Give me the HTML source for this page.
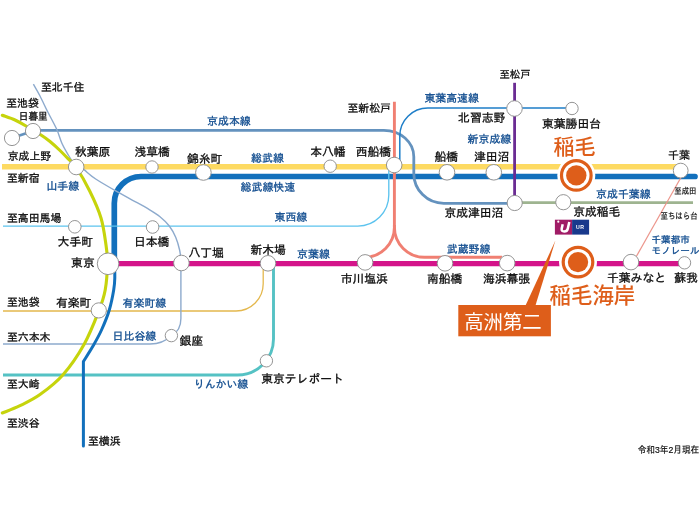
<!DOCTYPE html>
<html lang="ja"><head><meta charset="utf-8"><title>路線図</title>
<style>
html,body{margin:0;padding:0;background:#fff}
body{width:700px;height:525px;overflow:hidden}
svg{display:block;will-change:transform}
#lines path{fill:none;stroke-linejoin:round}
#labels text{font-family:'Liberation Sans', 'IPAGothic', 'Noto Sans CJK JP', sans-serif;fill:#0a0a0a;stroke:#0a0a0a;stroke-width:0.3px}
#labels text.b{fill:#0F4B8E;stroke:#0F4B8E}
#labels text.s{stroke-width:0.18px}
#big text{font-family:'Liberation Sans', 'Noto Sans CJK JP', sans-serif;font-weight:500}
#big text.w{font-weight:400}
#ur text{font-family:'Liberation Sans', 'Noto Sans CJK JP', sans-serif;font-weight:bold}
</style>
</head><body>
<svg width="700" height="525" viewBox="0 0 700 525">
<rect width="700" height="525" fill="#fff"/>
<g id="lines">
<path d="M2,166.7 H682" stroke="#FDDA62" stroke-width="5.5"/>
<path d="M695,176.5 H141 A26.7,26.7 0 0 0 114.3,203.2 V263" stroke="#1270BC" stroke-width="5.7" stroke-linecap="round"/>
<path d="M108,263.7 H685" stroke="#D4148A" stroke-width="5.3"/>
<path d="M3,226.1 H357.8 A31,31 0 0 0 388.8,195.1 V167" stroke="#5CC3EE" stroke-width="1.35"/>
<path d="M3,311 H236 A27.2,27.2 0 0 0 263.2,283.8 V263" stroke="#E4B84E" stroke-width="1.3"/>
<path d="M3,375 H237.5 A36,36 0 0 0 273.5,339 V263" stroke="#55C2C4" stroke-width="2.9"/>
<path d="M12,138 L33,131" stroke="#6492BE" stroke-width="2.8"/>
<path d="M33,130.3 H383.8 A30,26.5 0 0 1 413.8,156.8 V173.4 A30,30 0 0 0 443.8,203.4 H514" stroke="#6492BE" stroke-width="2.8"/>
<path d="M514,202.7 H693" stroke="#9EB490" stroke-width="2.8"/>
<path d="M399.8,165 V136 A28,28 0 0 1 427.8,108 H572" stroke="#1E7EC8" stroke-width="1.5"/>
<path d="M394.4,101.7 V227.3 A30,30 0 0 0 424.4,257.3 H502" stroke="#F07F72" stroke-width="2.9"/>
<path d="M394.4,225 V227.3 A30,30 0 0 1 364.4,257.3" stroke="#F07F72" stroke-width="2.9"/>
<path d="M684.6,171 L633.2,262" stroke="#EC968C" stroke-width="1.2"/>
<path d="M33.4,84.2 C34.5,86.2 37.6,91.4 40.0,96.0 C42.4,100.6 45.0,106.5 47.8,112.0 C50.6,117.5 54.2,123.8 56.6,129.0 C59.0,134.2 60.0,139.1 62.0,143.5 C64.0,147.9 66.3,151.6 68.6,155.5 C70.9,159.4 74.8,165.1 76.0,167.0" stroke="#8DAACD" stroke-width="1.4"/>
<path d="M78.0,164.5 C79.1,165.4 81.6,167.7 84.6,170.1 C87.5,172.5 90.1,175.3 95.7,179.0 C101.3,182.7 111.7,188.6 118.0,192.2 C124.3,195.8 128.5,198.0 133.6,200.8 C138.7,203.6 144.2,206.5 148.6,209.2 C153.0,211.9 156.6,214.0 160.0,216.8 C163.4,219.6 166.7,222.6 169.3,226.0 C171.9,229.4 174.0,233.3 175.7,237.3 C177.4,241.3 178.7,246.2 179.6,250.0 C180.5,253.8 180.7,258.3 180.9,260.0 V318.6 Q180.9,331 171.4,335.5" stroke="#8DAACD" stroke-width="1.4"/>
<path d="M3,344 H150 Q163,344 171.4,335.5" stroke="#8DAACD" stroke-width="1.3"/>
<path d="M114.5,262.0 C114.5,264.7 114.9,273.3 114.8,278.0 C114.7,282.7 114.6,284.7 113.7,290.0 C112.8,295.3 111.3,303.3 109.3,310.0 C107.3,316.7 104.2,324.0 101.5,330.0 C98.8,336.0 96.0,340.8 93.0,346.0 C90.0,351.2 85.0,358.9 83.4,361.5 V446" stroke="#1270BC" stroke-width="3.0" stroke-linecap="round"/>
<path d="M514.6,82.8 V203" stroke="#6B2C93" stroke-width="2.8"/>
<path d="M2.3,115.3 C4.4,116.1 11.1,118.2 15.0,120.0 C18.9,121.8 23.0,124.2 26.0,126.0 C29.0,127.8 30.5,129.0 33.0,130.5 C35.5,132.0 38.2,133.2 41.0,135.0 C43.8,136.8 46.8,138.9 50.0,141.5 C53.2,144.1 57.0,147.6 60.0,150.5 C63.0,153.4 65.3,155.9 68.0,158.7 C70.7,161.4 72.4,161.6 76.0,167.0 C79.6,172.4 85.5,182.5 89.7,191.0 C93.9,199.5 98.3,209.0 101.0,218.0 C103.7,227.0 104.9,237.4 106.0,245.0 C107.1,252.6 107.5,256.0 107.4,263.5 C107.3,271.0 106.6,282.2 105.2,290.0 C103.8,297.8 102.5,301.5 99.0,310.5 C95.5,319.5 90.3,333.2 84.3,344.0 C78.3,354.8 70.2,366.6 62.8,375.0 C55.4,383.4 47.1,389.5 40.0,394.6 C32.9,399.7 26.3,402.6 20.0,405.7 C13.7,408.8 5.2,411.8 2.3,413.0" stroke="#C6D40C" stroke-width="3.1" stroke-linecap="round"/>
</g>
<g id="stations" fill="#fff" stroke="#8e8e8e" stroke-width="0.95">
<circle cx="12" cy="138" r="7.6"/>
<circle cx="33" cy="131" r="7.6"/>
<circle cx="76.2" cy="167" r="7.8"/>
<circle cx="152" cy="167" r="6.2"/>
<circle cx="203.4" cy="172.5" r="7.8"/>
<circle cx="330.2" cy="166.2" r="6.2"/>
<circle cx="394.2" cy="165" r="7.8"/>
<circle cx="447" cy="172.3" r="7.8"/>
<circle cx="493.8" cy="172.3" r="7.8"/>
<circle cx="680.7" cy="170.6" r="7.4"/>
<circle cx="514.5" cy="108.5" r="7.8"/>
<circle cx="572" cy="108.5" r="6.2"/>
<circle cx="514.7" cy="203" r="7.6"/>
<circle cx="563.3" cy="202.2" r="7.6"/>
<circle cx="74.8" cy="226.8" r="6.3"/>
<circle cx="152.6" cy="227" r="6.3"/>
<circle cx="108.1" cy="263.8" r="10.8"/>
<circle cx="181.4" cy="263" r="7.8"/>
<circle cx="268" cy="263.3" r="7.8"/>
<circle cx="365.1" cy="262.4" r="7.8"/>
<circle cx="445" cy="263.3" r="7.8"/>
<circle cx="507.2" cy="263.1" r="7.8"/>
<circle cx="631" cy="262.1" r="7.8"/>
<circle cx="684.5" cy="262.8" r="6.2"/>
<circle cx="98.8" cy="310.4" r="7.6"/>
<circle cx="171.4" cy="335.6" r="6.2"/>
<circle cx="266.4" cy="360.8" r="6.2"/>
</g>
<g id="markers">
<circle cx="576.3" cy="175.4" r="19" fill="#fff"/><circle cx="576.3" cy="175.4" r="14.8" fill="#fff" stroke="#DE5E1A" stroke-width="3.2"/><circle cx="576.3" cy="175.4" r="10.2" fill="#DE5E1A"/>
<circle cx="578" cy="262.1" r="19" fill="#fff"/><circle cx="578" cy="262.1" r="14.8" fill="#fff" stroke="#DE5E1A" stroke-width="3.2"/><circle cx="578" cy="262.1" r="10.2" fill="#DE5E1A"/>
</g>
<g id="ur"><rect x="554.9" y="219.7" width="17.2" height="14.9" fill="#A01C66"/><rect x="572.1" y="219.7" width="17" height="14.9" fill="#18398C"/><path d="M562.7,224.2 L561.7,228.6 Q561.2,231.5 564.2,231.5 Q567.1,231.5 567.8,228.6 L569.3,221.9" fill="none" stroke="#fff" stroke-width="2.5"/><circle cx="558.3" cy="221.7" r="1.1" fill="#fff"/><text x="576.1" y="229.2" font-size="5.2" fill="#fff" letter-spacing="0.3">UR</text></g>
<g id="callout" fill="#DE5E1A"><path d="M555.4,240.6 L525.3,306 H535.3 Z"/><rect x="458.3" y="305" width="92.6" height="31.3"/></g>
<g id="labels">
<text x="40.9" y="91.1" font-size="10.9">至北千住</text>
<text x="6.2" y="107.3" font-size="10.9">至池袋</text>
<text x="18.8" y="120.2" font-size="10.4" textLength="28.8" lengthAdjust="spacingAndGlyphs">日暮里</text>
<text x="7.7" y="160.4" font-size="10.9">京成上野</text>
<text x="6.9" y="181.8" font-size="10.9">至新宿</text>
<text x="75.0" y="156.3" font-size="11.8">秋葉原</text>
<text x="134.4" y="156.3" font-size="11.8">浅草橋</text>
<text x="187.0" y="162.5" font-size="11.8">錦糸町</text>
<text x="310.2" y="156.3" font-size="11.8">本八幡</text>
<text x="355.7" y="155.5" font-size="11.8">西船橋</text>
<text x="434.4" y="161.3" font-size="11.8">船橋</text>
<text x="473.9" y="161.3" font-size="11.8">津田沼</text>
<text x="667.9" y="159.2" font-size="11">千葉</text>
<text x="347.4" y="111.9" font-size="10.9">至新松戸</text>
<text x="499.4" y="77.7" font-size="10.4">至松戸</text>
<text x="458.1" y="122.3" font-size="11.8">北習志野</text>
<text x="542.0" y="127.5" font-size="11.8">東葉勝田台</text>
<text x="444.4" y="216.7" font-size="11.8">京成津田沼</text>
<text x="573.2" y="216.2" font-size="11.8">京成稲毛</text>
<text x="674.3" y="193.9" font-size="8.6" textLength="22.1" lengthAdjust="spacingAndGlyphs" class="s">至成田</text>
<text x="660.5" y="219.4" font-size="8.8" textLength="37.1" lengthAdjust="spacingAndGlyphs" class="s">至ちはら台</text>
<text x="6.9" y="222.3" font-size="10.9">至高田馬場</text>
<text x="57.6" y="245.9" font-size="11.8">大手町</text>
<text x="134.0" y="245.9" font-size="11.8">日本橋</text>
<text x="71.1" y="267.0" font-size="11.8">東京</text>
<text x="188.4" y="256.7" font-size="11.8">八丁堀</text>
<text x="250.4" y="253.8" font-size="11.8">新木場</text>
<text x="340.7" y="283.1" font-size="11.8">市川塩浜</text>
<text x="426.9" y="283.1" font-size="11.8">南船橋</text>
<text x="482.9" y="283.1" font-size="11.8">海浜幕張</text>
<text x="607.0" y="281.5" font-size="11.8">千葉みなと</text>
<text x="674.2" y="281.5" font-size="11.8">蘇我</text>
<text x="6.9" y="306.1" font-size="10.9">至池袋</text>
<text x="56.0" y="306.5" font-size="11.8">有楽町</text>
<text x="6.9" y="340.6" font-size="10.9">至六本木</text>
<text x="179.4" y="345.2" font-size="11.8">銀座</text>
<text x="6.9" y="388.3" font-size="10.9">至大崎</text>
<text x="6.9" y="426.8" font-size="10.9">至渋谷</text>
<text x="87.9" y="445.1" font-size="10.9">至横浜</text>
<text x="261.2" y="382.5" font-size="11.8">東京テレポート</text>
<text x="637.7" y="452.9" font-size="9.5" textLength="61.6" lengthAdjust="spacingAndGlyphs" class="s">令和3年2月現在</text>
<text x="207.1" y="124.9" font-size="10.9" class="b">京成本線</text>
<text x="251.1" y="161.7" font-size="10.9" class="b">総武線</text>
<text x="240.6" y="191.1" font-size="10.9" class="b">総武線快速</text>
<text x="46.4" y="189.8" font-size="10.9" class="b">山手線</text>
<text x="274.5" y="220.6" font-size="10.9" class="b">東西線</text>
<text x="297.1" y="257.8" font-size="10.9" class="b">京葉線</text>
<text x="122.6" y="306.8" font-size="10.9" class="b">有楽町線</text>
<text x="112.6" y="340.1" font-size="10.9" class="b">日比谷線</text>
<text x="193.8" y="387.6" font-size="10.9" class="b">りんかい線</text>
<text x="424.4" y="102.3" font-size="10.9" class="b">東葉高速線</text>
<text x="467.6" y="143.3" font-size="10.9" class="b">新京成線</text>
<text x="446.8" y="253.1" font-size="10.9" class="b">武蔵野線</text>
<text x="596.1" y="197.9" font-size="10.9" class="b">京成千葉線</text>
<text x="651.6" y="243.3" font-size="9.4" textLength="38.1" lengthAdjust="spacingAndGlyphs" class="b">千葉都市</text>
<text x="651.6" y="253.9" font-size="9.4" textLength="47.9" lengthAdjust="spacingAndGlyphs" class="b">モノレール</text>
</g>
<g id="big">
<text x="553.6" y="154.0" font-size="21" fill="#DE5E1A">稲毛</text>
<text x="549.6" y="302.7" font-size="21.4" fill="#DE5E1A">稲毛海岸</text>
<text x="464.2" y="329.2" font-size="19.4" fill="#fff" class="w">高洲第二</text>
</g>
</svg>
</body></html>
